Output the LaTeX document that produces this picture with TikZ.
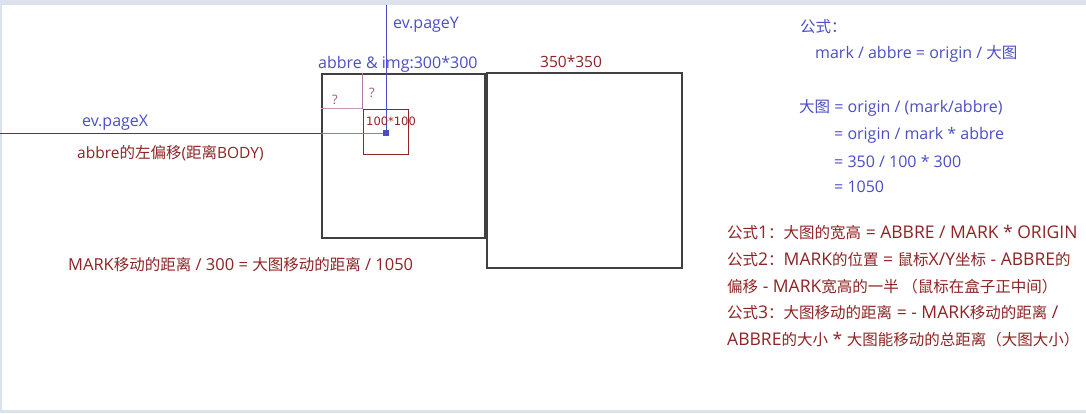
\documentclass[tikz,border=0pt]{standalone}
\usepackage{fontspec}
\setmainfont{Open Sans}
\newfontfamily\cjkf{Noto Sans CJK SC}
\newfontfamily\dejaf{DejaVu Sans}
\newcommand\cjktext[1]{{\cjkf\fontsize{15.5}{18}\selectfont #1}}
\definecolor{fblue}{HTML}{4B4FC4}
\definecolor{fred}{HTML}{8E2424}
\definecolor{fpurple}{HTML}{9A5A8E}
\definecolor{fpink}{HTML}{C498B8}
\definecolor{fline}{HTML}{7A2848}
\definecolor{flightblue}{HTML}{7A80D2}
\definecolor{frame}{HTML}{DCE2EB}
\definecolor{boxgray}{HTML}{404040}
\begin{document}
\begin{tikzpicture}[x=1pt,y=-1pt,
  txt/.style={inner sep=0pt, anchor=west, font=\fontsize{15.5}{18}\selectfont},
  bluetxt/.style={txt, text=fblue, font=\fontsize{16}{18}\selectfont},
  redtxt/.style={txt, text=fred},
  formula/.style={txt, text=fred, font=\fontsize{17.5}{20}\selectfont},
  bigbox/.style={draw=boxgray, line width=1.1pt, inner sep=0pt},
  markbox/.style={draw=fred, line width=0.9pt, inner sep=0pt}]
\useasboundingbox (0,0) rectangle (1086,413);
\fill[white] (0,0) rectangle (1086,413);
\fill[frame] (0,0) rectangle (1086,5);
\fill[frame] (0,410) rectangle (1086,413);
\fill[frame] (0,5) rectangle (1.5,410);

% boxes
\node[bigbox, minimum width=163pt, minimum height=164pt] (abbre) at (403.5,156) {};
\node[bigbox, minimum width=195pt, minimum height=195pt] (big) at (584.5,170.5) {};
\node[markbox, minimum width=45pt, minimum height=45pt] (mark) at (385.5,131.5) {};

% mouse point and lines
\node[fill=fblue, inner sep=0pt, minimum size=6pt] (mouse) at (386,133) {};
\coordinate (topend) at (386,5);
\coordinate (leftend) at (0,133);
\draw[fblue, line width=0.8pt] (topend) -- (mouse);
\draw[fline, line width=1pt] (leftend) -- (leftend -| abbre.west);
\draw[flightblue, line width=0.9pt] (leftend -| abbre.west) -- (mouse);
\draw[fpink, line width=0.9pt] (abbre.west |- mark.north) -- (mark.north west);
\draw[fpurple!80, line width=0.8pt] (mark.north west) -- (mark.north west |- abbre.north);

% labels
\node[bluetxt] (evy) at (393,25) {ev.pageY};
\node[bluetxt] (abl) at (318,64) {abbre \& img:300*300};
\node[bluetxt] (evx) at (82,123) {ev.pageX};
\node[redtxt] (off) at (77,153) {abbre\cjktext{的左偏移}(\cjktext{距离}BODY)};
\node[txt, text=fred, font=\dejaf\fontsize{11.5}{14}\selectfont] (m100) at (366,121) {100*100};
\node[txt, text=fpurple, font=\fontsize{13}{15}\selectfont] (q1) at (332,100) {?};
\node[txt, text=fpurple, font=\fontsize{13}{15}\selectfont] (q2) at (369,93) {?};
\node[redtxt] (s350) at (540,62) {350*350};
\node[redtxt, font=\fontsize{16.5}{19}\selectfont] (eq0) at (68,265) {MARK\cjktext{移动的距离} / 300 = \cjktext{大图移动的距离} / 1050};

% right blue formulas
\node[bluetxt] (r1) at (800,27) {\cjktext{公式：}};
\node[bluetxt] (r2) at (815,54) {mark / abbre = origin / \cjktext{大图}};
\node[bluetxt] (r3) at (799,108) {\cjktext{大图} = origin / (mark/abbre)};
\node[bluetxt] (r4) at (834,135) {= origin / mark * abbre};
\node[bluetxt] (r5) at (834,161) {= 350 / 100 * 300};
\node[bluetxt] (r6) at (834,187) {= 1050};

% right red formulas
\node[formula] (f1) at (727,233) {\cjktext{公式}1\cjktext{：大图的宽高} = ABBRE / MARK * ORIGIN};
\node[formula] (f2) at (727,260) {\cjktext{公式}2\cjktext{：}MARK\cjktext{的位置} = \cjktext{鼠标}X/Y\cjktext{坐标} - ABBRE\cjktext{的}};
\node[formula] (f3) at (727,287) {\cjktext{偏移} - MARK\cjktext{宽高的一半 （鼠标在盒子正中间）}};
\node[formula] (f4) at (727,313) {\cjktext{公式}3\cjktext{：大图移动的距离} = - MARK\cjktext{移动的距离} /};
\node[formula] (f5) at (727,340) {ABBRE\cjktext{的大小} * \cjktext{大图能移动的总距离（大图大小）}};
\end{tikzpicture}
\end{document}
